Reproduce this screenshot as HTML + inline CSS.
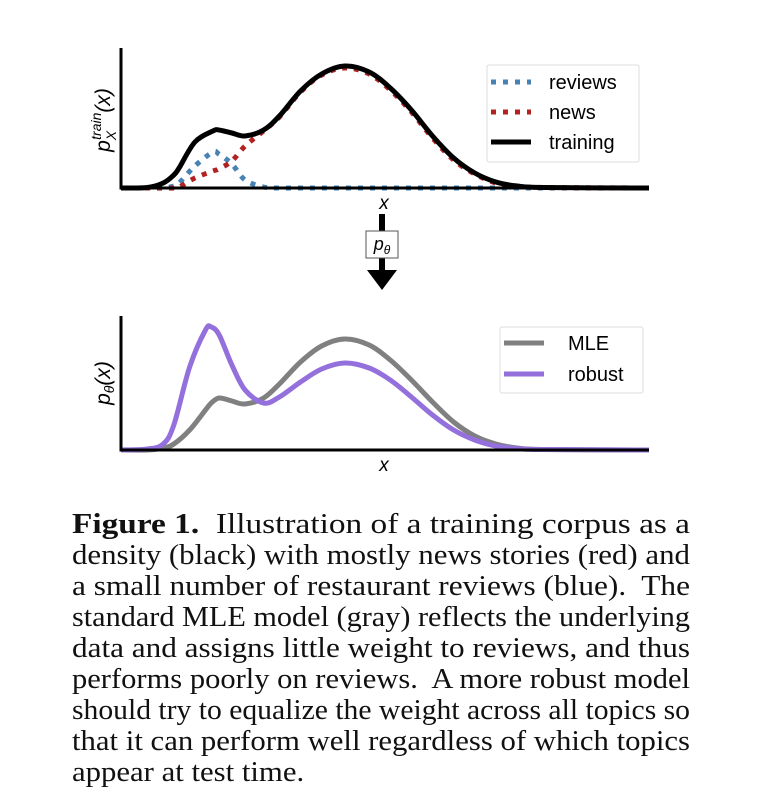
<!DOCTYPE html>
<html><head><meta charset="utf-8">
<style>
html,body{margin:0;padding:0;background:#fff;width:764px;height:803px;overflow:hidden}
svg{position:absolute;left:0;top:0}
#cap{position:absolute;left:72px;top:509px;width:618px;font-family:"Liberation Serif",serif;font-size:29px;line-height:31px;color:#111}
#cap div{height:31px;white-space:nowrap}
#cap span.ln{display:inline-block;transform-origin:0 0;white-space:pre}
</style></head><body>
<svg width="764" height="803" font-family="Liberation Sans, DejaVu Sans, sans-serif">
  <g id="top"></g>
  <g id="bot"></g>
  <g>
    <rect x="379" y="214" width="6" height="18" fill="#000"/>
    <rect x="379" y="257" width="6" height="14" fill="#000"/>
    <polygon points="367,270 397,270 382,290" fill="#000"/>
    <rect x="366" y="231" width="32" height="27" fill="#fff" stroke="#555" stroke-width="1"/>
    <text x="382" y="250" text-anchor="middle" font-size="18" font-style="italic">p<tspan font-size="12" dy="4">θ</tspan></text>
  </g>
</svg>
<div id="cap">
<div><span class="ln"><b>Figure 1.</b>  Illustration of a training corpus as a</span></div>
<div><span class="ln">density (black) with mostly news stories (red) and</span></div>
<div><span class="ln">a small number of restaurant reviews (blue).  The</span></div>
<div><span class="ln">standard MLE model (gray) reflects the underlying</span></div>
<div><span class="ln">data and assigns little weight to reviews, and thus</span></div>
<div><span class="ln">performs poorly on reviews.  A more robust model</span></div>
<div><span class="ln">should try to equalize the weight across all topics so</span></div>
<div><span class="ln">that it can perform well regardless of which topics</span></div>
<div><span class="ln last">appear at test time.</span></div>
</div>
<script>
const xTop = [0,0.5,0.8,1.0,1.1,1.4,1.74,1.85,2.1,2.35,2.7,3.0,3.4,3.8,4.24,4.7,5.1,5.5,5.9,6.3,6.7,7.1,7.5,8.0,10];
const trainingVals = [0,0.5,5,13,20,46,57,58,55,52,58,72,97,114,122,116,100,78,52,30,15,6,2,0.5,0];
const reviewsVals = [0,0,0,2,5,22,36,34,24,8,1,0,0,0,0,0,0,0,0,0,0,0,0,0,0];
const newsVals = [0,0,0,0,1,10,17,19,27,42,57,71,96,113,120,114,98,76,50,28,14,5,2,0.5,0];
const xBot = [0,0.5,0.8,1.0,1.3,1.6,1.71,1.86,2.1,2.35,2.7,3.0,3.4,3.8,4.24,4.7,5.1,5.5,5.9,6.3,6.7,7.1,7.5,8.0,10];
const robustVals = [0,1,6,25,83,120,123,115,85,60,47,53,68,81,87,82,70,53,35,20,10,4,1.5,0.5,0];
const mleVals = [0,0,2,6,20,40,47,52,49,46,52,66,88,104,111,105,90,70,48,28,14,6,2,0.5,0];

const NS='http://www.w3.org/2000/svg';
function mk(tag,attrs,parent){const e=document.createElementNS(NS,tag);for(const k in attrs)e.setAttribute(k,attrs[k]);parent.appendChild(e);return e;}
function smooth(pts){let d='M'+pts[0][0]+','+pts[0][1];for(let i=0;i<pts.length-1;i++){const p0=pts[Math.max(0,i-1)],p1=pts[i],p2=pts[i+1],p3=pts[Math.min(pts.length-1,i+2)];const c1x=p1[0]+(p2[0]-p0[0])/6,c1y=p1[1]+(p2[1]-p0[1])/6,c2x=p2[0]-(p3[0]-p1[0])/6,c2y=p2[1]-(p3[1]-p1[1])/6;d+=' C'+c1x.toFixed(2)+','+c1y.toFixed(2)+' '+c2x.toFixed(2)+','+c2y.toFixed(2)+' '+p2[0].toFixed(2)+','+p2[1].toFixed(2);}return d;}

function chart(g,cfg){
  const L=121,R=649,B=cfg.base,T=cfg.top,H=cfg.h;
  const sx=v=>L+v/10*(R-L), sy=v=>B-v/cfg.ymax*H;
  cfg.series.forEach(s=>{
    const p=mk('path',{d:smooth(cfg.x.map((x,i)=>[sx(x),sy(s.v[i])])),fill:'none',stroke:s.c,'stroke-width':s.w,'stroke-dasharray':s.dash||'none','stroke-linejoin':'round'},g);
    
    
  });
  const ax=mk('path',{d:`M${L},${T} L${L},${B} L${R},${B}`,fill:'none',stroke:'#000','stroke-width':3},g);
  
  
  const xl=mk('text',{x:384,y:B+21,'text-anchor':'middle','font-size':19,'font-style':'italic'},g);
  xl.textContent='x';
  
  
  const lg=cfg.legend;
  const box=mk('rect',{x:lg.x,y:lg.y,width:lg.w,height:lg.h,fill:'#fff',stroke:'#ddd','stroke-width':1,rx:2},g);
  
  
  cfg.series.forEach((s,i)=>{
    const yy=lg.y+lg.first+i*lg.step;
    const ln=mk('line',{x1:lg.x+4,x2:lg.x+44,y1:yy,y2:yy,stroke:s.c,'stroke-width':s.w,'stroke-dasharray':s.dash||'none'},g);
    
    
    const t=mk('text',{x:lg.x+lg.tx,y:yy+7,'font-size':20},g);
    t.textContent=s.name;
    
    
  });
}
chart(document.getElementById('top'),{x:xTop,base:188,top:48,h:140,ymax:140,
  series:[{name:'reviews',v:reviewsVals,c:'#4682b4',w:5,dash:'5 7'},{name:'news',v:newsVals,c:'#b22222',w:5,dash:'5 7'},{name:'training',v:trainingVals,c:'#000',w:5}],
  legend:{x:487,y:65,w:152,h:97,first:17,step:30,tx:62}});
chart(document.getElementById('bot'),{x:xBot,base:450,top:316,h:134,ymax:134,
  series:[{name:'MLE',v:mleVals,c:'#808080',w:5},{name:'robust',v:robustVals,c:'#9370db',w:5}],
  legend:{x:500,y:327,w:143,h:66,first:16,step:31,tx:68}});
const svg=document.querySelector('svg');
const y1=mk('text',{x:0,y:0,'font-size':21,'font-style':'italic',transform:'translate(110,120) rotate(-90)','text-anchor':'middle'},svg);
y1.innerHTML='p<tspan font-size="14" dy="6">X</tspan><tspan font-size="14" dy="-15" dx="-9">train</tspan><tspan dy="9">(x)</tspan>';


const y2=mk('text',{x:0,y:0,'font-size':21,'font-style':'italic',transform:'translate(110,383) rotate(-90)','text-anchor':'middle'},svg);
y2.innerHTML='p<tspan font-size="14" dy="4">θ</tspan><tspan dy="-4">(x)</tspan>';


const lines=[...document.querySelectorAll('#cap span.ln')];
let sc=1;
lines.forEach(l=>{if(!l.classList.contains('last')){sc=618/l.getBoundingClientRect().width;l.style.transform='scaleX('+sc+')';}});
lines.forEach(l=>{if(l.classList.contains('last'))l.style.transform='scaleX('+sc+')';});
</script>
</body></html>
